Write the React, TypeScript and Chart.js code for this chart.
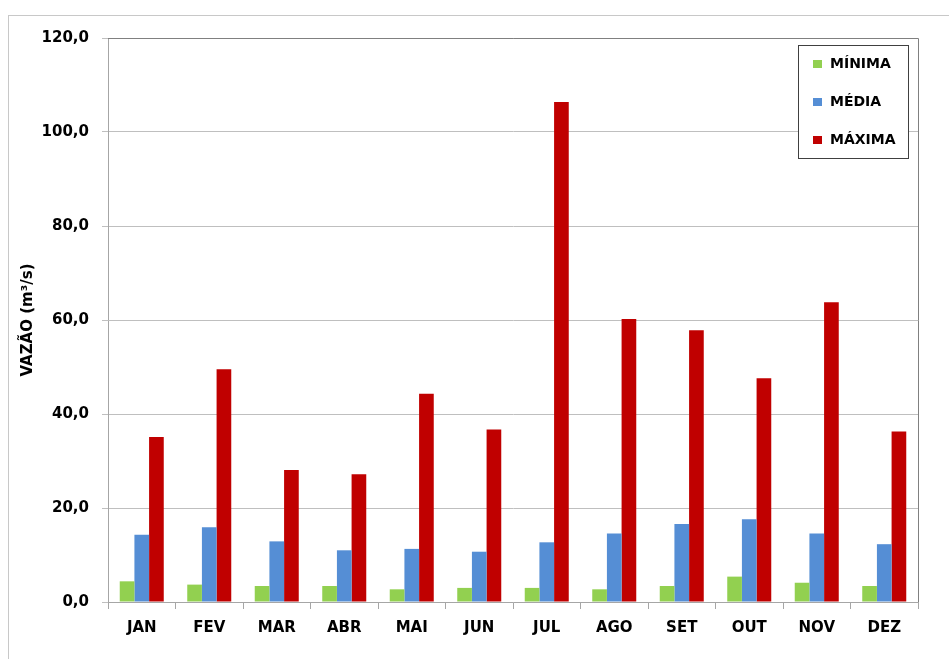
import React, { useEffect, useRef } from "react";
import { Chart, registerables } from "chart.js";

Chart.register(...registerables);

const categories = ["JAN", "FEV", "MAR", "ABR", "MAI", "JUN", "JUL", "AGO", "SET", "OUT", "NOV", "DEZ"];
const minima = [4.4, 3.7, 3.4, 3.4, 2.7, 3.0, 3.0, 2.7, 3.4, 5.4, 4.1, 3.4];
const media = [14.3, 15.9, 12.9, 11.0, 11.3, 10.7, 12.7, 14.6, 16.6, 17.6, 14.6, 12.3];
const maxima = [35.1, 49.5, 28.1, 27.2, 44.3, 36.7, 106.4, 60.2, 57.8, 47.6, 63.8, 36.3];
const seriesNames = ["MÍNIMA", "MÉDIA", "MÁXIMA"];
const seriesColors = ["#92D050", "#558ED5", "#C00000"];
const yTitle = "VAZÃO (m³/s)";

const FONT = "'DejaVu Sans', sans-serif";

const frameAndLegend = {
  id: "frameAndLegend",
  afterDraw(chart: any) {
    const { ctx, chartArea } = chart;
    ctx.save();
    // plot area top/right border
    ctx.strokeStyle = "#808080";
    ctx.lineWidth = 1;
    ctx.beginPath();
    const t = Math.round(chartArea.top) + 0.5;
    const r = Math.round(chartArea.right) + 0.5;
    ctx.moveTo(Math.round(chartArea.left), t);
    ctx.lineTo(r, t);
    ctx.lineTo(r, Math.round(chartArea.bottom));
    ctx.stroke();

    // legend box
    const w = 110;
    const h = 113;
    const x = Math.round(chartArea.right) - 120;
    const y = Math.round(chartArea.top) + 7;
    ctx.fillStyle = "#ffffff";
    ctx.fillRect(x, y, w, h);
    ctx.strokeStyle = "#404040";
    ctx.strokeRect(x + 0.5, y + 0.5, w, h);
    const rows = [19, 56.5, 95];
    ctx.font = `bold 14px ${FONT}`;
    ctx.textBaseline = "middle";
    ctx.textAlign = "left";
    chart.data.datasets.forEach((ds: any, i: number) => {
      const cy = y + rows[i];
      ctx.fillStyle = ds.backgroundColor;
      ctx.fillRect(x + 15, Math.round(cy - 4), 9, 8);
      ctx.fillStyle = "#000000";
      ctx.fillText(ds.label, x + 32, cy + 0.5);
    });
    ctx.restore();
  },
};

export default function App() {
  const ref = useRef<HTMLCanvasElement | null>(null);

  useEffect(() => {
    if (!ref.current) return;
    const chart = new Chart(ref.current, {
      type: "bar",
      data: {
        labels: categories,
        datasets: [minima, media, maxima].map((d, i) => ({
          label: seriesNames[i],
          data: d,
          backgroundColor: seriesColors[i],
          borderWidth: 0,
          categoryPercentage: 0.652,
          barPercentage: 1.0,
        })),
      },
      options: {
        responsive: false,
        animation: false,
        devicePixelRatio: 1,
        layout: { padding: { top: 21, right: 31, left: 0, bottom: 0 } },
        plugins: {
          legend: { display: false },
          tooltip: { enabled: false },
        },
        scales: {
          x: {
            offset: true,
            grid: {
              offset: true,
              drawOnChartArea: false,
              drawTicks: true,
              tickLength: 7,
              tickColor: "#a6a6a6",
            },
            border: { color: "#a6a6a6", width: 1 },
            ticks: {
              color: "#000000",
              font: { family: FONT, size: 15, weight: "bold" },
              padding: 10,
              maxRotation: 0,
            },
            afterFit(scale: any) {
              scale.height = 57;
            },
          },
          y: {
            min: 0,
            max: 120,
            ticks: {
              stepSize: 20,
              color: "#000000",
              font: { family: FONT, size: 15, weight: "bold" },
              padding: 13,
              callback: (v: any) => Number(v).toFixed(1).replace(".", ","),
            },
            grid: {
              color: "#bfbfbf",
              tickLength: 6,
              tickColor: "#bfbfbf",
            },
            border: { color: "#a6a6a6", width: 1 },
            title: {
              display: true,
              text: yTitle,
              color: "#000000",
              font: { family: FONT, size: 15, weight: "bold" },
              padding: { top: 10, bottom: 0 },
            },
            afterFit(scale: any) {
              scale.width = 99;
            },
          },
        },
      },
      plugins: [frameAndLegend],
    });
    return () => chart.destroy();
  }, []);

  return (
    <div
      style={{
        position: "fixed",
        left: 8,
        top: 15,
        right: 0,
        bottom: 0,
        borderTop: "1px solid #c8c8c8",
        borderLeft: "1px solid #c8c8c8",
        background: "#ffffff",
        overflow: "hidden",
      }}
    >
      <canvas ref={ref} width={940} height={643} style={{ display: "block" }} />
    </div>
  );
}
